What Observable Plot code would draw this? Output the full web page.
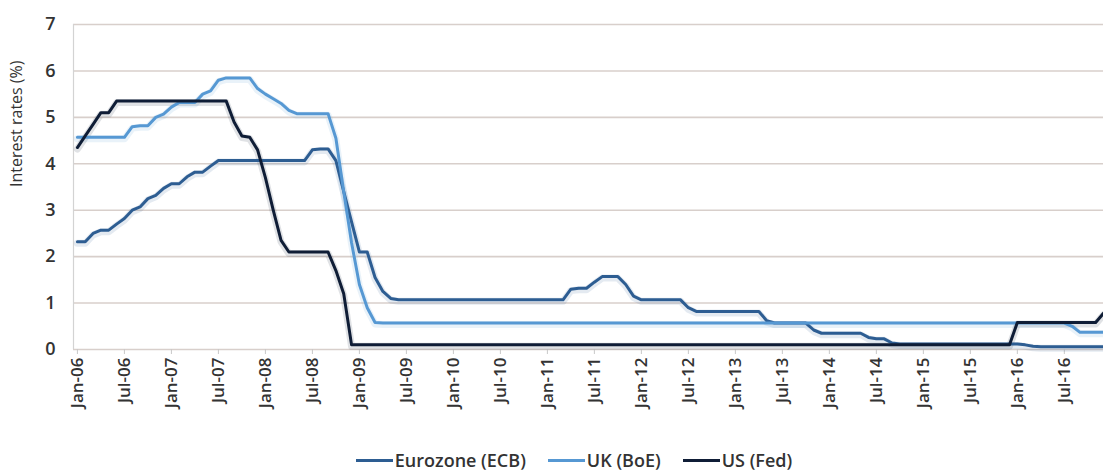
<!DOCTYPE html>
<html><head><meta charset="utf-8">
<script src="https://cdn.jsdelivr.net/npm/d3@7"></script>
<script src="https://cdn.jsdelivr.net/npm/@observablehq/plot@0.6"></script>
<style>
body{margin:0;background:#fff;font-family:"Open Sans",sans-serif;}
#wrap{position:relative;width:1103px;height:474px;overflow:hidden;}
#legend{position:absolute;top:450px;left:0;width:1103px;box-sizing:border-box;padding-left:45px;display:flex;justify-content:center;align-items:center;font-size:18px;color:#333;font-weight:600;line-height:21px;height:21px;}
#legend .item{display:flex;align-items:center;margin:0 11px;}
#legend .sw{display:inline-block;width:37px;height:3px;margin-right:2px;}
</style></head><body><div id="wrap"><div id="chart"></div><div id="legend"></div></div>
<script>
const seriesNames = ["Eurozone (ECB)", "UK (BoE)", "US (Fed)"];
const seriesColors = ["#2d5d92", "#5698d3", "#0f1d36"];

// monthly values, Jan-06 .. Dec-16
const ecb = [
  2.32,2.32,2.5,2.57,2.57,2.7,2.82,3.0,3.07,3.25,3.32,3.47,
  3.57,3.57,3.72,3.82,3.82,3.95,4.07,4.07,4.07,4.07,4.07,4.07,
  4.07,4.07,4.07,4.07,4.07,4.07,4.3,4.32,4.32,4.07,3.4,2.75,
  2.1,2.1,1.55,1.25,1.1,1.07,1.07,1.07,1.07,1.07,1.07,1.07,
  1.07,1.07,1.07,1.07,1.07,1.07,1.07,1.07,1.07,1.07,1.07,1.07,
  1.07,1.07,1.07,1.3,1.32,1.32,1.45,1.57,1.57,1.57,1.4,1.15,
  1.07,1.07,1.07,1.07,1.07,1.07,0.9,0.82,0.82,0.82,0.82,0.82,
  0.82,0.82,0.82,0.82,0.62,0.57,0.57,0.57,0.57,0.57,0.42,0.35,
  0.35,0.35,0.35,0.35,0.35,0.26,0.23,0.23,0.14,0.12,0.12,0.12,
  0.12,0.12,0.12,0.12,0.12,0.12,0.12,0.12,0.12,0.12,0.12,0.12,
  0.12,0.1,0.07,0.06,0.06,0.06,0.06,0.06,0.06,0.06,0.06,0.06
];
const boe = [
  4.57,4.57,4.57,4.57,4.57,4.57,4.57,4.8,4.82,4.82,5.0,5.07,
  5.22,5.32,5.32,5.32,5.5,5.57,5.8,5.85,5.85,5.85,5.85,5.62,
  5.5,5.4,5.3,5.15,5.08,5.08,5.08,5.08,5.08,4.55,3.4,2.3,
  1.4,0.9,0.58,0.57,0.57,0.57,0.57,0.57,0.57,0.57,0.57,0.57,
  0.57,0.57,0.57,0.57,0.57,0.57,0.57,0.57,0.57,0.57,0.57,0.57,
  0.57,0.57,0.57,0.57,0.57,0.57,0.57,0.57,0.57,0.57,0.57,0.57,
  0.57,0.57,0.57,0.57,0.57,0.57,0.57,0.57,0.57,0.57,0.57,0.57,
  0.57,0.57,0.57,0.57,0.57,0.57,0.57,0.57,0.57,0.57,0.57,0.57,
  0.57,0.57,0.57,0.57,0.57,0.57,0.57,0.57,0.57,0.57,0.57,0.57,
  0.57,0.57,0.57,0.57,0.57,0.57,0.57,0.57,0.57,0.57,0.57,0.57,
  0.57,0.57,0.57,0.57,0.57,0.57,0.57,0.5,0.37,0.37,0.37,0.37
];
const fed = [
  4.35,4.6,4.85,5.1,5.1,5.35,5.35,5.35,5.35,5.35,5.35,5.35,
  5.35,5.35,5.35,5.35,5.35,5.35,5.35,5.35,4.9,4.6,4.57,4.3,
  3.7,3.0,2.35,2.1,2.1,2.1,2.1,2.1,2.1,1.7,1.2,0.1,
  0.1,0.1,0.1,0.1,0.1,0.1,0.1,0.1,0.1,0.1,0.1,0.1,
  0.1,0.1,0.1,0.1,0.1,0.1,0.1,0.1,0.1,0.1,0.1,0.1,
  0.1,0.1,0.1,0.1,0.1,0.1,0.1,0.1,0.1,0.1,0.1,0.1,
  0.1,0.1,0.1,0.1,0.1,0.1,0.1,0.1,0.1,0.1,0.1,0.1,
  0.1,0.1,0.1,0.1,0.1,0.1,0.1,0.1,0.1,0.1,0.1,0.1,
  0.1,0.1,0.1,0.1,0.1,0.1,0.1,0.1,0.1,0.1,0.1,0.1,
  0.1,0.1,0.1,0.1,0.1,0.1,0.1,0.1,0.1,0.1,0.1,0.1,
  0.58,0.58,0.58,0.58,0.58,0.58,0.58,0.58,0.58,0.58,0.58,0.78
];

const yTicks = [0, 1, 2, 3, 4, 5, 6, 7];
const xTickPos = [0, 6, 12, 18, 24, 30, 36, 42, 48, 54, 60, 66, 72, 78, 84, 90, 96, 102, 108, 114, 120, 126];
const xTickLabels = ["Jan-06","Jul-06","Jan-07","Jul-07","Jan-08","Jul-08","Jan-09","Jul-09","Jan-10","Jul-10","Jan-11","Jul-11","Jan-12","Jul-12","Jan-13","Jul-13","Jan-14","Jul-14","Jan-15","Jul-15","Jan-16","Jul-16"];
const yLabel = "Interest rates (%)";

const W = 1103, H = 440;
const allSeries = [ecb, boe, fed];
const tables = allSeries.map((vals, i) => vals.map((v, m) => ({series: seriesNames[i], m, v})));

const lineMarks = [];
tables.forEach((t, i) => {
  lineMarks.push(Plot.line(t, {x: "m", y: "v", stroke: seriesColors[i], strokeWidth: 7, strokeOpacity: 0.13, dy: 1.5}));
});
tables.forEach((t, i) => {
  lineMarks.push(Plot.line(t, {x: "m", y: "v", stroke: seriesColors[i], strokeWidth: 3, strokeLinejoin: "round"}));
});

const chart = Plot.plot({
  width: W, height: H,
  marginLeft: 73, marginRight: 0, marginTop: 24, marginBottom: H - 349,
  x: {type: "linear", domain: [-0.5, 131], axis: null},
  y: {domain: [0, 7], axis: null},
  style: {fontFamily: "Open Sans", fontSize: "14px", color: "#333", background: "#fff", overflow: "visible"},
  marks: [
    Plot.gridY(yTicks, {stroke: "#d8cfcb", strokeOpacity: 1, strokeWidth: 1.6}),
    Plot.ruleX([-0.5], {stroke: "#d3d3d3", strokeWidth: 1.2}),
    Plot.axisY(yTicks, {tickSize: 0, tickPadding: 18, fontSize: 18, fontWeight: 600, fill: "#333", label: null}),
    Plot.axisX(xTickPos, {tickFormat: d => xTickLabels[xTickPos.indexOf(d)], tickRotate: -90, tickSize: 5, tickPadding: 3, fontSize: 17, fontWeight: 600, fill: "#333", stroke: "#c8c8c8", label: null}),
    Plot.text([yLabel], {frameAnchor: "left", dx: -63, rotate: -90, lineAnchor: "top", fontSize: 16, fill: "#333"}),
    ...lineMarks
  ]
});
document.getElementById("chart").appendChild(chart);

const legend = document.getElementById("legend");
seriesNames.forEach((name, i) => {
  const item = document.createElement("div");
  item.className = "item";
  const sw = document.createElement("span");
  sw.className = "sw";
  sw.style.background = seriesColors[i];
  item.appendChild(sw);
  item.appendChild(document.createTextNode(name));
  legend.appendChild(item);
});
</script>
</body></html>
